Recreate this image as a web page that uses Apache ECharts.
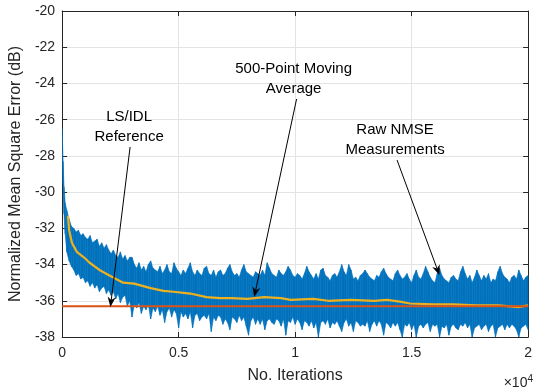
<!DOCTYPE html>
<html><head><meta charset="utf-8">
<script src="https://cdn.jsdelivr.net/npm/echarts@6/dist/echarts.min.js"></script>
<style>html,body{margin:0;padding:0;background:#fff}#c{width:535px;height:392px}</style>
</head><body><div id="c"></div>
<script>
// ---- data ----
const yTicks = [-38,-36,-34,-32,-30,-28,-26,-24,-22,-20];
const xTickLabels = ['0','0.5','1','1.5','2'];

// sample positions (iterations) of the raw NMSE envelope
const rawIter = [0,40,80,130,
 200,300,400,500,600,700,800,900,1000,
 1100,1200,1300,1400,1500,1600,1700,1800,1900,2000,
 2100,2200,2300,2400,2500,2600,2700,2800,2900,3000,
 3100,3200,3300,3400,3500,3600,3700,3800,3900,4000,
 4100,4200,4300,4400,4500,4600,4700,4800,4900,5000,
 5100,5200,5300,5400,5500,5600,5700,5800,5900,6000,
 6100,6200,6300,6400,6500,6600,6700,6800,6900,7000,
 7100,7200,7300,7400,7500,7600,7700,7800,7900,8000,
 8100,8200,8300,8400,8500,8600,8700,8800,8900,9000,
 9100,9200,9300,9400,9500,9600,9700,9800,9900,10000,
 10100,10200,10300,10400,10500,10600,10700,10800,10900,11000,
 11100,11200,11300,11400,11500,11600,11700,11800,11900,12000,
 12100,12200,12300,12400,12500,12600,12700,12800,12900,13000,
 13100,13200,13300,13400,13500,13600,13700,13800,13900,14000,
 14100,14200,14300,14400,14500,14600,14700,14800,14900,15000,
 15100,15200,15300,15400,15500,15600,15700,15800,15900,16000,
 16100,16200,16300,16400,16500,16600,16700,16800,16900,17000,
 17100,17200,17300,17400,17500,17600,17700,17800,17900,18000,
 18100,18200,18300,18400,18500,18600,18700,18800,18900,19000,
 19100,19200,19300,19400,19500,19600,19700,19800,19900,20000];
// upper envelope of raw NMSE (dB)
const rawHigh = [-26.5,-28.3,-29.7,-30.6,
 -31.0,-31.5,-31.9,-32.0,-32.2,-32.1,-32.4,-32.3,-32.5,
 -32.6,-32.4,-32.8,-32.7,-32.6,-33.0,-32.8,-33.1,-32.9,-33.2,
 -33.4,-33.2,-33.5,-33.6,-33.3,-33.7,-33.5,-33.8,-33.6,-33.6,
 -34.0,-34.2,-33.9,-34.3,-34.1,-34.4,-34.0,-33.8,-34.2,-34.3,
 -34.4,-34.1,-34.5,-34.3,-34.0,-34.4,-34.5,-33.9,-34.2,-34.4,
 -34.6,-34.3,-34.5,-34.2,-33.9,-34.4,-34.6,-34.3,-34.5,-34.6,
 -34.2,-34.1,-34.5,-34.6,-34.3,-34.7,-34.4,-34.3,-34.6,-34.5,
 -34.2,-34.0,-34.4,-34.6,-34.5,-34.7,-34.3,-34.0,-34.4,-34.5,
 -34.6,-34.7,-34.4,-34.5,-34.6,-34.3,-34.6,-33.9,-34.2,-34.5,
 -34.6,-34.7,-34.3,-34.5,-34.6,-34.4,-34.1,-34.3,-34.6,-34.7,
 -34.5,-34.6,-34.8,-34.5,-34.1,-34.4,-34.6,-34.8,-34.5,-34.8,
 -34.3,-34.2,-34.6,-34.7,-34.9,-34.6,-34.5,-34.7,-34.4,-34.0,
 -34.4,-34.6,-34.0,-34.3,-34.8,-34.7,-34.9,-34.6,-34.5,-34.3,
 -34.5,-34.7,-34.8,-34.9,-34.6,-34.7,-34.4,-34.2,-34.5,-34.7,
 -34.8,-34.9,-34.5,-34.3,-34.6,-34.8,-34.7,-34.5,-34.8,-35.0,
 -34.6,-34.3,-34.7,-34.8,-34.5,-34.1,-34.4,-34.7,-34.9,-35.0,
 -34.5,-34.2,-34.6,-34.8,-34.9,-35.0,-34.7,-34.6,-34.8,-34.9,
 -34.4,-34.1,-34.5,-34.8,-34.6,-35.0,-34.7,-34.3,-34.6,-34.9,
 -34.6,-34.8,-34.5,-35.0,-34.8,-34.9,-34.4,-34.1,-34.5,-34.7,
 -34.8,-35.0,-34.7,-34.6,-34.8,-34.3,-34.6,-34.9,-34.7,-34.6];
// lower envelope of raw NMSE (dB)
const rawLow = [-26.9,-29.5,-31.2,-32.3,
 -33.3,-33.8,-34.1,-34.3,-34.6,-34.5,-34.8,-34.7,-35.0,
 -34.9,-35.2,-35.0,-35.3,-35.1,-35.5,-35.3,-35.2,-35.6,-35.4,
 -35.7,-35.5,-35.9,-35.6,-36.1,-35.8,-35.7,-36.3,-36.0,-36.9,
 -36.2,-36.4,-36.1,-36.7,-36.3,-36.5,-36.2,-37.0,-36.4,-36.6,
 -36.3,-36.8,-36.5,-37.2,-36.6,-36.4,-36.9,-36.5,-36.7,-37.5,
 -36.6,-36.9,-36.7,-37.0,-36.6,-37.5,-36.8,-36.7,-37.1,-36.9,
 -36.8,-37.0,-36.7,-37.7,-36.9,-37.1,-36.8,-36.9,-37.3,-37.0,
 -37.2,-37.6,-36.9,-37.0,-37.2,-36.8,-37.1,-36.9,-37.4,-37.9,
 -37.1,-36.9,-37.3,-37.0,-37.3,-37.0,-37.6,-37.1,-37.0,-37.2,
 -37.3,-37.0,-37.1,-37.4,-37.0,-37.9,-37.1,-37.2,-36.9,-37.3,
 -37.0,-37.2,-37.6,-37.1,-37.2,-37.4,-37.1,-37.5,-37.2,-38.0,
 -37.2,-37.1,-37.3,-37.0,-37.5,-37.2,-37.3,-37.1,-37.4,-37.7,
 -37.2,-37.0,-37.4,-37.2,-37.7,-37.1,-37.2,-37.4,-37.3,-37.4,
 -37.1,-37.7,-37.3,-37.1,-37.4,-37.1,-37.3,-37.9,-37.2,-37.3,
 -37.5,-37.2,-37.4,-37.2,-37.6,-38.0,-37.3,-37.4,-37.2,-37.6,
 -37.3,-38.0,-37.4,-37.3,-37.5,-37.3,-37.2,-37.7,-37.3,-37.4,
 -37.3,-38.0,-37.4,-37.5,-37.3,-37.9,-37.4,-37.3,-37.5,-37.6,
 -37.3,-37.4,-37.2,-37.5,-37.3,-38.0,-37.5,-37.4,-37.3,-37.6,
 -37.4,-37.3,-37.7,-37.4,-37.3,-38.0,-37.5,-37.4,-37.3,-37.6,
 -37.3,-37.5,-37.3,-37.4,-37.6,-38.0,-37.5,-37.4,-37.3,-37.6];

// 500-point moving average
const maIter = [250,300,420,630,930,1180,1600,2030,2620,3090,3800,4350,4780,5500,6200,6770,7270,7950,8670,9390,9810,10780,11420,12390,13400,13950,14500,14930,15940,16790,17760,18730,19580,20000];
const maValue = [-31.3,-32.1,-32.8,-33.3,-33.6,-33.9,-34.3,-34.6,-35.0,-35.05,-35.3,-35.45,-35.5,-35.6,-35.8,-35.85,-35.85,-35.9,-35.8,-35.85,-35.95,-35.9,-36.0,-35.95,-36.0,-35.95,-36.05,-36.15,-36.2,-36.2,-36.25,-36.25,-36.35,-36.25];

// LS/IDL reference
const refIter = [0,20000];
const refValue = [-36.3,-36.3];

// annotations: text, text centre, arrow tail, arrow tip (data coords)
const annoText = ['LS/IDL\nReference','500-Point Moving\nAverage','Raw NMSE\nMeasurements'];
const annoTextAt = [[2875,-26.4],[9936,-23.75],[14290,-27.12]];
const annoTail = [[2917,-27.51],[10063,-24.86],[14375,-28.23]];
const annoTip = [[2072,-36.34],[8245,-35.79],[16193,-34.58]];

// ---- chart ----
const FONT = '"Liberation Sans", Arial, Helvetica, sans-serif';
const AX = '#262626';
const BLUE = '#0072BD';
const chart = echarts.init(document.getElementById('c'), null, {renderer:'canvas'});
const commonX = {type:'value', min:0, max:20000, interval:5000};
const commonY = {type:'value', min:-38, max:-20, interval:2};

const bandData = rawIter.map((x,i)=>[x, rawLow[i], rawHigh[i]]);
function renderBand(params, api){
  const i = params.dataIndex;
  if (i >= bandData.length-1) return null;
  const a = bandData[i], b = bandData[i+1];
  const p1 = api.coord([a[0], a[2]]), p2 = api.coord([b[0], b[2]]);
  const p3 = api.coord([b[0], b[1]]), p4 = api.coord([a[0], a[1]]);
  return {type:'polygon', shape:{points:[p1,p2,p3,p4]},
    style:{fill:BLUE, stroke:BLUE, lineWidth:0.6}};
}

chart.setOption({
  animation:false,
  backgroundColor:'#fff',
  grid:{left:60, right:2, top:11, bottom:55, containLabel:false},
  xAxis:[
    Object.assign({}, commonX, {
      position:'bottom',
      name:'No. Iterations', nameLocation:'middle', nameGap:31,
      nameTextStyle:{fontFamily:FONT, fontSize:16, color:AX},
      axisLine:{onZero:false, lineStyle:{color:AX, width:1}},
      axisTick:{inside:true, length:5, lineStyle:{color:AX}},
      axisLabel:{fontFamily:FONT, fontSize:14, color:AX, margin:9,
        formatter:(v)=>xTickLabels[Math.round(v/5000)]},
      splitLine:{show:true, lineStyle:{color:'#e3e3e3', width:1}}
    }),
    Object.assign({}, commonX, {
      position:'top',
      axisLine:{onZero:false, lineStyle:{color:AX, width:1}},
      axisTick:{inside:true, length:5, lineStyle:{color:AX}},
      axisLabel:{show:false}, splitLine:{show:false}
    })
  ],
  yAxis:[
    Object.assign({}, commonY, {
      position:'left',
      name:'Normalized Mean Square Error (dB)', nameLocation:'middle', nameGap:36,
      nameTextStyle:{fontFamily:FONT, fontSize:16, color:AX},
      axisLine:{onZero:false, show:true, lineStyle:{color:AX, width:1}},
      axisTick:{show:true, inside:true, length:5, lineStyle:{color:AX}},
      axisLabel:{fontFamily:FONT, fontSize:14, color:AX, margin:7,
        formatter:(v)=>String(yTicks[yTicks.indexOf(v)])},
      splitLine:{show:true, lineStyle:{color:'#e3e3e3', width:1}}
    }),
    Object.assign({}, commonY, {
      position:'right',
      axisLine:{onZero:false, show:true, lineStyle:{color:AX, width:1}},
      axisTick:{show:true, inside:true, length:5, lineStyle:{color:AX}},
      axisLabel:{show:false}, splitLine:{show:false}
    })
  ],
  series:[
    {type:'custom', name:'Raw NMSE', silent:true, clip:true,
     data: bandData, encode:{x:0, y:[1,2]}, renderItem: renderBand, z:2},
    {type:'line', name:'Moving Average', symbol:'none', silent:true, z:3,
     data: maIter.map((x,i)=>[x, maValue[i]]),
     lineStyle:{color:'#EDB120', width:2.2}},
    {type:'line', name:'LS/IDL', symbol:'none', silent:true, z:4,
     data: refIter.map((x,i)=>[x, refValue[i]]),
     lineStyle:{color:'#D95319', width:2}}
  ]
});

// annotations positioned from data coordinates
const px = (p)=>chart.convertToPixel({xAxisIndex:0, yAxisIndex:0}, p);
const elements = [];
annoText.forEach((t,i)=>{
  const c = px(annoTextAt[i]);
  elements.push({type:'text', z:100, style:{text:t, x:c[0], y:c[1], align:'center', verticalAlign:'middle',
    font:'15px '+FONT, lineHeight:20, fill:'#000'}});
  const a = px(annoTail[i]), b = px(annoTip[i]);
  const dx=b[0]-a[0], dy=b[1]-a[1], L=Math.hypot(dx,dy), ux=dx/L, uy=dy/L, nx=-uy, ny=ux;
  const HL=10, HW=4, NOTCH=3;
  elements.push({type:'line', z:100, shape:{x1:a[0], y1:a[1], x2:b[0]-ux*(HL-NOTCH), y2:b[1]-uy*(HL-NOTCH)},
    style:{stroke:'#000', lineWidth:1}});
  elements.push({type:'polygon', z:100, shape:{points:[
    [b[0],b[1]],
    [b[0]-ux*HL+nx*HW, b[1]-uy*HL+ny*HW],
    [b[0]-ux*(HL-NOTCH), b[1]-uy*(HL-NOTCH)],
    [b[0]-ux*HL-nx*HW, b[1]-uy*HL-ny*HW]]},
    style:{fill:'#000'}});
});
elements.push({type:'text', z:100, style:{
  text:'{a|×10}{b|4}', x:533, y:382, align:'right', verticalAlign:'middle',
  rich:{a:{fontFamily:FONT, fontSize:14, fill:AX, verticalAlign:'bottom', lineHeight:16},
        b:{fontFamily:FONT, fontSize:10, fill:AX, verticalAlign:'top', lineHeight:16, padding:[0,0,6,0]}}
}});
chart.setOption({graphic:{elements}});
</script>
</body></html>
